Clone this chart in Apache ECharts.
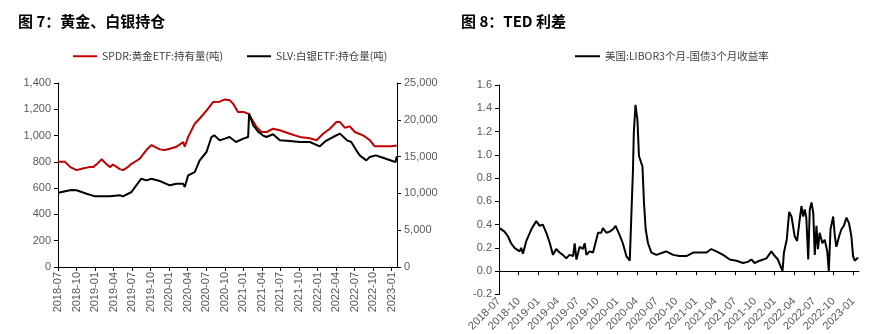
<!DOCTYPE html>
<html><head><meta charset="utf-8">
<script src="https://cdn.jsdelivr.net/npm/echarts@6/dist/echarts.min.js"></script>
<style>html,body{margin:0;padding:0;background:#fff}#c{width:883px;height:334px}</style>
</head><body><div id="c"></div>
<script>
const tickLabels = ['2018-07','2018-10','2019-01','2019-04','2019-07','2019-10','2020-01','2020-04','2020-07','2020-10','2021-01','2021-04','2021-07','2021-10','2022-01','2022-04','2022-07','2022-10','2023-01'];

const goldDates = ['2018-07-02','2018-08-05','2018-09-01','2018-10-01','2018-11-01','2018-12-01','2018-12-22','2019-01-15','2019-02-03','2019-02-20','2019-03-13','2019-03-29','2019-05-01','2019-05-17','2019-06-10','2019-06-28','2019-07-20','2019-08-08','2019-09-10','2019-10-05','2019-11-15','2019-12-10','2020-01-04','2020-02-06','2020-03-09','2020-03-17','2020-04-03','2020-05-05','2020-05-30','2020-07-02','2020-08-04','2020-09-06','2020-10-01','2020-10-25','2020-11-11','2020-12-05','2021-01-01','2021-01-25','2021-02-10','2021-03-05','2021-03-30','2021-04-23','2021-05-26','2021-06-28','2021-08-17','2021-10-05','2021-11-24','2021-12-27','2022-01-29','2022-03-01','2022-04-03','2022-04-20','2022-05-14','2022-06-08','2022-07-02','2022-08-12','2022-09-15','2022-10-09','2022-11-19','2023-01-01','2023-01-27'];
const goldValues = [800,800,760,737,750,760,760,790,820,790,760,780,745,737,760,785,805,825,890,928,895,890,900,915,950,915,990,1090,1130,1190,1255,1258,1275,1268,1243,1180,1180,1167,1130,1065,1027,1027,1052,1040,1014,990,980,965,1014,1052,1103,1103,1060,1070,1027,1002,965,918,918,918,925];

const silverDates = ['2018-07-02','2018-09-05','2018-10-01','2018-11-20','2019-01-01','2019-03-13','2019-05-01','2019-05-17','2019-06-28','2019-07-22','2019-08-16','2019-09-10','2019-10-05','2019-11-15','2020-01-04','2020-02-06','2020-03-09','2020-03-17','2020-04-03','2020-05-05','2020-05-30','2020-07-02','2020-07-27','2020-08-10','2020-09-06','2020-10-01','2020-10-25','2020-11-25','2021-01-01','2021-01-25','2021-01-30','2021-02-05','2021-02-18','2021-03-15','2021-04-05','2021-04-23','2021-05-26','2021-06-28','2021-08-17','2021-10-05','2021-11-24','2022-01-13','2022-02-10','2022-03-17','2022-04-20','2022-05-25','2022-06-15','2022-07-10','2022-07-27','2022-08-29','2022-09-15','2022-10-15','2022-11-19','2023-01-05','2023-01-21','2023-01-27'];
const silverValues = [10100,10450,10420,9960,9600,9600,9740,9600,10190,11100,12000,11775,12000,11685,11100,11320,11320,10870,12450,12900,14490,15625,17660,17890,17210,17440,17660,16980,17440,17660,20830,21060,19250,18340,17890,17660,18030,17210,17120,16980,16980,16400,17120,17660,18120,17210,16980,15850,15170,14490,14940,15170,14850,14400,14270,15040];

const tedDates = ['2018-07-04','2018-07-27','2018-08-12','2018-08-27','2018-09-12','2018-10-05','2018-10-13','2018-10-21','2018-11-06','2018-11-29','2018-12-22','2019-01-07','2019-01-22','2019-02-07','2019-02-22','2019-03-08','2019-03-23','2019-04-08','2019-04-23','2019-05-09','2019-05-24','2019-06-10','2019-06-17','2019-06-25','2019-07-02','2019-07-10','2019-07-25','2019-08-03','2019-08-11','2019-08-26','2019-09-11','2019-09-26','2019-10-04','2019-10-19','2019-10-27','2019-11-12','2019-11-27','2019-12-13','2019-12-25','2020-01-13','2020-01-28','2020-02-13','2020-02-28','2020-03-06','2020-03-14','2020-03-18','2020-03-26','2020-04-04','2020-04-11','2020-04-19','2020-04-27','2020-05-04','2020-05-12','2020-05-23','2020-06-08','2020-07-01','2020-08-01','2020-08-16','2020-09-17','2020-10-17','2020-11-18','2020-12-19','2021-01-19','2021-02-19','2021-03-12','2021-04-05','2021-05-06','2021-06-06','2021-07-07','2021-08-07','2021-08-30','2021-09-15','2021-09-30','2021-10-24','2021-11-24','2021-12-17','2022-01-02','2022-01-17','2022-01-25','2022-02-07','2022-02-13','2022-02-25','2022-03-08','2022-03-19','2022-04-03','2022-04-14','2022-04-27','2022-05-04','2022-05-12','2022-05-20','2022-05-27','2022-06-05','2022-06-12','2022-06-20','2022-06-28','2022-07-05','2022-07-13','2022-07-20','2022-07-28','2022-08-10','2022-08-21','2022-09-02','2022-09-09','2022-09-17','2022-09-29','2022-10-07','2022-10-14','2022-10-27','2022-11-07','2022-11-18','2022-11-30','2022-12-12','2022-12-23','2022-12-31','2023-01-08','2023-01-19','2023-01-25'];
const tedValues = [0.37,0.34,0.30,0.24,0.20,0.17,0.20,0.15,0.26,0.36,0.43,0.39,0.40,0.33,0.24,0.14,0.19,0.16,0.14,0.11,0.14,0.13,0.24,0.10,0.09,0.21,0.19,0.24,0.14,0.17,0.16,0.27,0.33,0.33,0.37,0.33,0.34,0.36,0.39,0.31,0.24,0.13,0.09,0.46,0.87,1.19,1.43,1.30,0.99,1.00,0.90,0.59,0.36,0.24,0.16,0.14,0.16,0.17,0.14,0.13,0.13,0.16,0.16,0.16,0.19,0.17,0.14,0.10,0.09,0.07,0.08,0.10,0.07,0.09,0.11,0.17,0.13,0.10,0.09,0.00,0.16,0.27,0.51,0.47,0.30,0.26,0.46,0.56,0.47,0.53,0.46,0.10,0.53,0.59,0.50,0.14,0.39,0.19,0.33,0.24,0.27,0.17,0.00,0.36,0.47,0.30,0.21,0.30,0.36,0.39,0.46,0.41,0.30,0.13,0.09,0.11,0.11];

// month index since 2018-07 (fractional, by day within month)
function toMonth(s){
  const p = s.split('-').map(Number);
  const d = p[2] || 1;
  const dim = new Date(p[0], p[1], 0).getDate();
  return (p[0]-2018)*12 + (p[1]-7) + (d-1)/dim;
}
function pairs(d, v){ return d.map((x,i)=>[toMonth(x), v[i]]); }
const tickPos = tickLabels.map(toMonth);
function fmtTick(v){ const i = tickPos.findIndex(t => Math.abs(t - v) < 1e-6); return i >= 0 ? tickLabels[i] : ''; }
function comma(v){ return String(Math.round(v)).replace(/\B(?=(\d{3})+(?!\d))/g, ','); }

const labelColor = '#595959';
const axisColor = '#000';
const fontFamily = '"Liberation Sans", Arial, sans-serif';
const xMin = 0, xMax = toMonth('2023-01-28');

function xAxisCfg(grid, rotate){
  return {
    type:'value', gridIndex:grid, min:xMin, max:xMax, interval:3,
    axisLine:{show:true, onZero:true, lineStyle:{color:axisColor, width:1}},
    axisTick:{show:true, length:4, customValues:tickPos, lineStyle:{color:axisColor}},
    axisLabel:{customValues:tickPos, formatter:fmtTick, rotate:rotate, color:labelColor, fontSize:11, fontFamily:fontFamily, margin:5, hideOverlap:false, showMinLabel:true, showMaxLabel:true, interval:0},
    splitLine:{show:false}
  };
}

const legendText = {fontSize:10.5, color:'#404040', fontFamily:'"Noto Sans CJK SC", sans-serif'};
const chart = echarts.init(document.getElementById('c'), null, {renderer:'canvas'});
chart.setOption({
  animation:false,
  backgroundColor:'#fff',
  title:[
    {text:'图 7：黄金、白银持仓', left:13, top:9, textStyle:{fontSize:15, fontWeight:'bold', color:'#000', fontFamily:'"Noto Sans CJK SC", sans-serif'}},
    {text:'图 8：TED 利差', left:456, top:9, textStyle:{fontSize:15, fontWeight:'bold', color:'#000', fontFamily:'"Noto Sans CJK SC", sans-serif'}}
  ],
  legend:[
    {data:['SPDR:黄金ETF:持有量(吨)','SLV:白银ETF:持仓量(吨)'], left:73, top:51, padding:0, itemWidth:24, itemHeight:2, itemGap:24, icon:'rect', textStyle:legendText},
    {data:['美国:LIBOR3个月-国债3个月收益率'], left:575, top:51, padding:0, itemWidth:25, itemHeight:2, icon:'rect', textStyle:legendText}
  ],
  grid:[
    {left:58, top:83, width:339, height:184},
    {left:499, top:85, width:360, height:210}
  ],
  xAxis:[ xAxisCfg(0, 90), xAxisCfg(1, 45) ],
  yAxis:[
    {type:'value', gridIndex:0, position:'left', min:0, max:1400, interval:200,
     axisLine:{show:true, lineStyle:{color:axisColor}}, axisTick:{show:true, length:4, lineStyle:{color:axisColor}},
     axisLabel:{formatter:comma, color:labelColor, fontSize:11, fontFamily:fontFamily, margin:7}, splitLine:{show:false}},
    {type:'value', gridIndex:0, position:'right', min:0, max:25000, interval:5000,
     axisLine:{show:true, lineStyle:{color:axisColor}}, axisTick:{show:true, length:4, lineStyle:{color:axisColor}},
     axisLabel:{formatter:comma, color:labelColor, fontSize:11, fontFamily:fontFamily, margin:7}, splitLine:{show:false}},
    {type:'value', gridIndex:1, position:'left', min:-0.2, max:1.6, interval:0.2,
     axisLine:{show:true, lineStyle:{color:axisColor}}, axisTick:{show:true, length:4, lineStyle:{color:axisColor}},
     axisLabel:{formatter:v=>v.toFixed(1), color:labelColor, fontSize:11, fontFamily:fontFamily, margin:7}, splitLine:{show:false}}
  ],
  series:[
    {name:'SPDR:黄金ETF:持有量(吨)', type:'line', xAxisIndex:0, yAxisIndex:0, data:pairs(goldDates, goldValues), showSymbol:false, lineStyle:{color:'#C00000', width:2}, itemStyle:{color:'#C00000'}},
    {name:'SLV:白银ETF:持仓量(吨)', type:'line', xAxisIndex:0, yAxisIndex:1, data:pairs(silverDates, silverValues), showSymbol:false, lineStyle:{color:'#000', width:2}, itemStyle:{color:'#000'}},
    {name:'美国:LIBOR3个月-国债3个月收益率', type:'line', xAxisIndex:1, yAxisIndex:2, data:pairs(tedDates, tedValues), showSymbol:false, lineStyle:{color:'#000', width:2}, itemStyle:{color:'#000'}}
  ]
});
</script></body></html>
